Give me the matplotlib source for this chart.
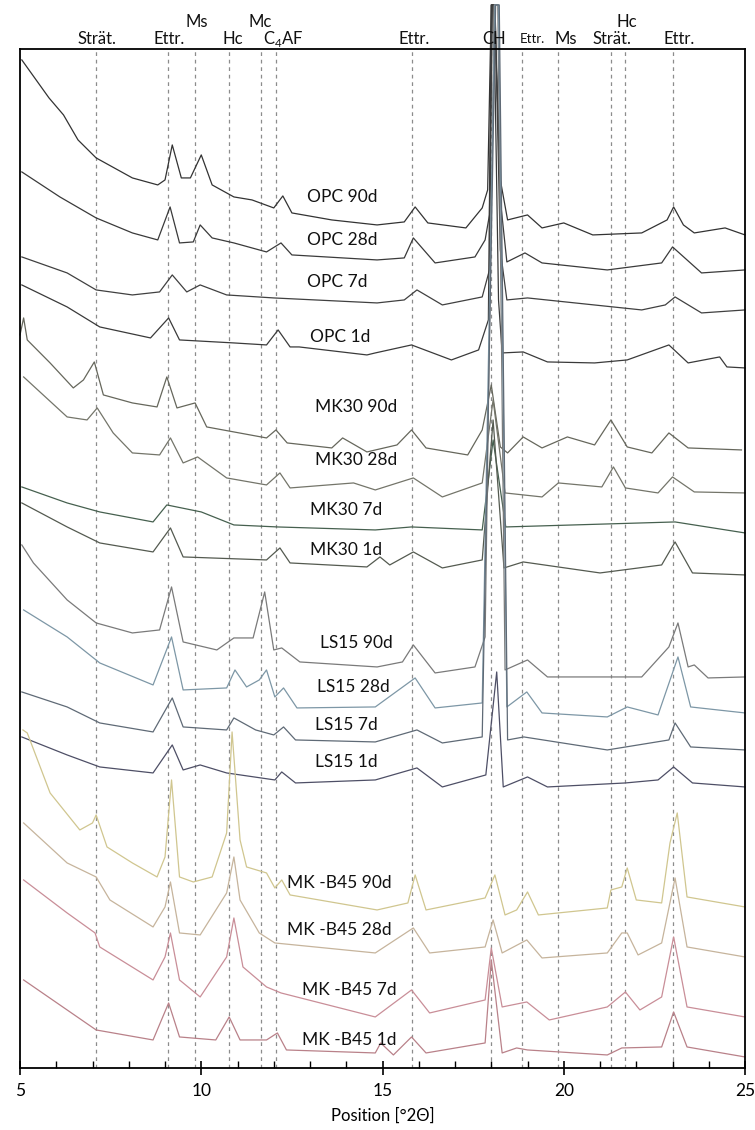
import numpy as np
import matplotlib
matplotlib.use("Agg")
import matplotlib.pyplot as plt

plt.rcParams['font.family'] = ['Lato', 'DejaVu Sans']

# phase reference lines (deg 2theta)
ref_lines = [7.09, 9.07, 9.83, 10.76, 11.65, 12.07, 15.8, 18.0, 18.84, 19.83, 21.3, 21.7, 23.0]

# phase labels above the frame: text, centre position, row (0 = lower, 1 = upper), small
phase_names = ['Strät.', 'Ettr.', 'Ms', 'Hc', 'Mc', r'C$_\mathregular{4}$AF',
               'Ettr.', 'CH', 'Ettr.', 'Ms', 'Strät.', 'Hc', 'Ettr.']
phase_pos = [7.12, 9.11, 9.88, 10.88, 11.62, 12.26, 15.87, 18.08, 19.12, 20.06, 21.33, 21.74, 23.18]
phase_row = [0, 0, 1, 0, 1, 0, 0, 0, 0, 0, 0, 1, 0]
phase_small = [0, 0, 0, 0, 0, 0, 0, 0, 1, 0, 0, 0, 0]

# stacked patterns (intensity, arbitrary units incl. offset)
opc90_x = [5.05, 5.8, 6.2, 6.6, 7.1, 7.6, 8.1, 8.8, 9.0, 9.2, 9.45, 9.7, 10.0, 10.3, 10.9, 11.4, 12.0, 12.25,
           12.5, 13.6, 14.85, 15.6, 15.9, 16.25, 17.3, 17.75, 17.9, 18.0, 18.08, 18.25, 18.45, 19.0, 19.4, 20.0,
           20.8, 22.15, 22.85, 23.03, 23.3, 23.6, 24.45, 25.0]
opc90_y = [1008, 970, 953, 928, 910, 900, 890, 883, 888, 923, 890, 890, 913, 883, 871, 868, 860, 872,
           855, 848, 843, 846, 861, 845, 840, 860, 878, 1063, 1063, 888, 848, 853, 840, 845,
           833, 835, 848, 861, 843, 835, 840, 833]

opc28_x = [5.05, 6.1, 7.1, 8.1, 8.8, 9.14, 9.4, 9.78, 9.97, 10.3, 10.9, 11.8, 12.2, 12.5, 14.85, 15.6, 15.85,
           16.45, 17.55, 17.83, 17.95, 18.03, 18.1, 18.25, 18.43, 18.93, 19.4, 21.2, 22.7, 23.0, 23.8, 25.0]
opc28_y = [896, 871, 850, 835, 828, 861, 825, 826, 843, 830, 825, 816, 825, 813, 808, 810, 830,
           805, 811, 828, 853, 1063, 1063, 868, 806, 815, 805, 798, 805, 821, 795, 798]

opc7_x = [5.05, 6.3, 7.1, 8.1, 8.85, 9.2, 9.6, 9.97, 10.7, 12.0, 14.85, 15.6, 15.95, 16.65, 17.75, 17.95,
          18.02, 18.1, 18.25, 18.43, 19.0, 22.15, 22.8, 23.07, 23.8, 25.0]
opc7_y = [811, 795, 778, 773, 776, 793, 776, 783, 773, 770, 765, 768, 778, 763, 771, 798,
          1063, 1063, 818, 768, 770, 758, 763, 771, 755, 758]

opc1_x = [5.05, 6.3, 7.2, 8.6, 9.1, 9.4, 10.9, 11.8, 12.12, 12.45, 12.7, 14.57, 14.8, 15.8, 16.9, 17.65,
          17.92, 18.0, 18.07, 18.2, 18.3, 18.88, 19.55, 20.85, 21.75, 22.9, 23.43, 24.3, 24.5, 25.0]
opc1_y = [783, 761, 741, 730, 750, 728, 725, 723, 738, 721, 721, 713, 715, 723, 708, 718,
          748, 1063, 1063, 768, 715, 716, 706, 705, 708, 723, 705, 711, 701, 700]

mk30_90_x = [5.0, 5.1, 5.2, 5.83, 6.47, 6.75, 7.05, 7.3, 8.1, 8.78, 9.05, 9.33, 9.83, 10.15, 10.9, 11.8,
             12.06, 12.37, 13.6, 13.9, 14.57, 15.4, 15.8, 16.2, 17.35, 17.75, 18.0, 18.25, 18.45, 18.88,
             19.4, 20.1, 20.85, 21.3, 21.75, 22.43, 22.9, 23.43, 24.9]
mk30_90_y = [733, 750, 728, 705, 680, 688, 706, 673, 665, 661, 691, 660, 665, 641, 636, 630,
             638, 625, 620, 630, 616, 623, 638, 620, 613, 638, 683, 621, 615, 631,
             620, 631, 623, 648, 621, 615, 635, 620, 618]

mk30_28_x = [5.1, 6.3, 6.85, 7.13, 7.57, 8.1, 8.85, 9.15, 9.5, 9.9, 10.7, 11.8, 12.17, 12.45, 14.2, 14.8,
             15.85, 16.65, 17.75, 18.05, 18.38, 19.4, 19.85, 21.05, 21.37, 21.7, 22.6, 23.0, 23.6, 25.0]
mk30_28_y = [691, 651, 648, 660, 635, 615, 613, 630, 605, 611, 590, 583, 595, 580, 585, 578,
             590, 571, 585, 668, 575, 571, 585, 581, 601, 580, 575, 591, 576, 575]

mk30_7_x = [5.05, 6.3, 7.2, 8.67, 9.05, 10.0, 10.9, 12.1, 14.8, 15.8, 17.75, 18.05, 18.4, 23.07, 25.0]
mk30_7_y = [581, 565, 556, 546, 563, 556, 543, 541, 538, 541, 538, 628, 541, 546, 535]

mk30_1_x = [5.05, 6.3, 7.2, 8.67, 9.15, 9.5, 11.8, 12.17, 12.45, 14.57, 14.93, 15.2, 15.85, 16.65, 17.75,
            18.05, 18.35, 18.88, 21.0, 22.7, 23.07, 23.55, 25.0]
mk30_1_y = [565, 541, 525, 516, 540, 511, 508, 520, 505, 501, 511, 503, 516, 500, 508,
            648, 500, 506, 495, 503, 526, 495, 493]

ls15_90_x = [5.05, 5.37, 6.3, 7.1, 8.1, 8.85, 9.18, 9.5, 10.43, 10.9, 11.43, 11.75, 12.0, 12.22, 12.72,
             14.85, 15.55, 15.85, 16.45, 17.55, 17.83, 18.08, 18.18, 18.38, 19.0, 19.55, 22.15, 22.9,
             23.15, 23.43, 23.6, 23.98, 25.0]
ls15_90_y = [523, 505, 468, 445, 435, 438, 481, 426, 418, 430, 430, 476, 418, 420, 406,
             401, 406, 423, 395, 401, 431, 1063, 1063, 398, 408, 391, 391, 421,
             445, 401, 403, 390, 391]

ls15_28_x = [5.1, 6.3, 7.2, 8.67, 9.18, 9.5, 10.7, 10.93, 11.25, 11.6, 11.8, 12.03, 12.27, 12.64, 14.8,
             15.9, 16.45, 17.75, 18.1, 18.2, 18.43, 18.98, 19.4, 21.2, 21.75, 22.6, 23.15, 23.5, 25.0]
ls15_28_y = [458, 431, 405, 383, 431, 378, 380, 398, 381, 388, 398, 371, 380, 360, 361,
             390, 360, 365, 1063, 1063, 361, 376, 355, 351, 361, 353, 411, 361, 355]

ls15_7_x = [5.05, 6.3, 7.2, 8.67, 9.2, 9.5, 10.7, 10.9, 11.5, 12.0, 12.27, 12.6, 14.8, 15.95, 16.65,
            17.75, 18.12, 18.22, 18.45, 18.9, 21.2, 22.9, 23.07, 23.5, 25.0]
ls15_7_y = [376, 361, 345, 336, 370, 341, 338, 350, 338, 333, 341, 328, 326, 338, 325,
            331, 1063, 1063, 328, 331, 318, 328, 345, 321, 318]

ls15_1_x = [5.05, 6.3, 7.2, 8.67, 9.2, 9.5, 9.97, 10.7, 12.03, 12.22, 12.6, 14.8, 15.95, 16.65, 17.85,
            18.15, 18.33, 19.0, 19.55, 21.7, 22.6, 23.03, 23.55, 25.0]
ls15_1_y = [331, 313, 301, 295, 323, 298, 303, 295, 288, 296, 285, 288, 300, 281, 293,
            396, 281, 291, 281, 285, 288, 301, 285, 281]

mkb90_x = [5.08, 5.2, 5.83, 6.65, 7.0, 7.1, 7.4, 8.1, 8.78, 9.0, 9.18, 9.4, 9.78, 10.3, 10.7, 10.85,
           11.07, 11.25, 11.8, 12.03, 12.22, 12.45, 14.85, 15.7, 15.9, 16.2, 17.83, 18.1, 18.38, 18.7,
           19.0, 19.3, 21.2, 21.3, 21.6, 21.75, 22.0, 22.7, 22.93, 23.13, 23.4, 25.0]
mkb90_y = [338, 335, 275, 238, 245, 253, 221, 205, 191, 211, 288, 191, 186, 191, 235, 336,
           228, 201, 195, 180, 188, 173, 158, 165, 193, 158, 170, 193, 153, 158,
           176, 153, 160, 178, 181, 200, 168, 165, 225, 255, 171, 161]

mkb28_x = [5.1, 6.3, 7.1, 7.48, 8.67, 9.0, 9.15, 9.4, 9.97, 10.7, 10.9, 11.07, 11.6, 12.03, 14.8, 15.85,
           16.3, 17.83, 18.05, 18.3, 18.98, 19.4, 21.2, 21.6, 21.75, 22.05, 22.7, 23.07, 23.4, 25.0]
mkb28_y = [245, 205, 191, 168, 141, 161, 186, 135, 133, 175, 211, 168, 135, 125, 115, 140,
           115, 121, 148, 115, 128, 110, 115, 135, 135, 113, 125, 190, 121, 111]

mkb7_x = [5.1, 6.3, 7.07, 7.2, 8.67, 9.0, 9.15, 9.4, 9.97, 10.7, 10.9, 11.15, 11.8, 12.2, 14.8, 15.8,
          16.3, 17.83, 18.0, 18.3, 18.98, 19.6, 21.2, 21.7, 22.1, 22.7, 23.03, 23.4, 25.0]
mkb7_y = [188, 155, 135, 121, 88, 111, 135, 88, 71, 111, 150, 101, 81, 75, 51, 78,
          55, 68, 120, 61, 66, 48, 61, 76, 58, 71, 131, 61, 51]

mkb1_x = [5.1, 6.3, 7.1, 8.67, 9.1, 9.4, 10.4, 10.77, 11.07, 11.8, 12.1, 12.35, 14.8, 14.95, 15.3, 15.8,
          16.2, 17.83, 18.0, 18.3, 18.7, 19.0, 21.2, 21.6, 22.7, 23.03, 23.4, 25.0]
mkb1_y = [88, 58, 38, 28, 65, 31, 28, 51, 28, 28, 35, 18, 15, 25, 13, 31,
          15, 25, 108, 15, 20, 18, 13, 20, 21, 56, 21, 11]

sample_names = ['OPC 90d', 'OPC 28d', 'OPC 7d', 'OPC 1d',
                'MK30 90d', 'MK30 28d', 'MK30 7d', 'MK30 1d',
                'LS15 90d', 'LS15 28d', 'LS15 7d', 'LS15 1d',
                'MK -B45 90d', 'MK -B45 28d', 'MK -B45 7d', 'MK -B45 1d']
patterns = [(opc90_x, opc90_y), (opc28_x, opc28_y), (opc7_x, opc7_y), (opc1_x, opc1_y),
            (mk30_90_x, mk30_90_y), (mk30_28_x, mk30_28_y), (mk30_7_x, mk30_7_y), (mk30_1_x, mk30_1_y),
            (ls15_90_x, ls15_90_y), (ls15_28_x, ls15_28_y), (ls15_7_x, ls15_7_y), (ls15_1_x, ls15_1_y),
            (mkb90_x, mkb90_y), (mkb28_x, mkb28_y), (mkb7_x, mkb7_y), (mkb1_x, mkb1_y)]
# where each sample name sits (x, intensity)
label_x = [12.92, 12.92, 12.92, 13.0, 13.14, 13.14, 13.0, 13.0,
           13.28, 13.2, 13.14, 13.14, 12.37, 12.37, 12.78, 12.78]
label_y = [871, 828, 786, 731, 661, 608, 558, 518, 425, 381, 343, 306, 185, 138, 78, 28]

colors = ['#333333', '#3a3a3a', '#404040', '#3a3a3a',
          '#66675c', '#74756a', '#46604f', '#545a50',
          '#7a7a7a', '#7d97a6', '#5f6a76', '#4e4f66',
          '#d0c68f', '#c6b49c', '#c98e98', '#b98189']

fig = plt.figure(figsize=(7.55, 11.3), dpi=100)
ax = fig.add_axes([0.0265, 0.0549, 0.9603, 0.9018])

for xv in ref_lines:
    ax.axvline(xv, color='#8c8c8c', lw=0.9, ls=(0, (3, 3)), zorder=1)

for (xs, ys), c in zip(patterns, colors):
    ax.plot(xs, ys, color=c, lw=0.9, zorder=2, clip_on=False)

for name, lx, ly in zip(sample_names, label_x, label_y):
    ax.text(lx, ly, name, fontsize=12.5, va='center', ha='left', color='#111111', zorder=3)

trans = ax.get_xaxis_transform()
for name, px, row, small in zip(phase_names, phase_pos, phase_row, phase_small):
    yy = 1.0265 if row else 1.0095
    ax.text(px, yy, name, transform=trans, ha='center', va='center',
            fontsize=9.5 if small else 12, color='#111111')

ax.set_xlim(5, 25)
ax.set_ylim(0, 1019)
ax.set_yticks([])
ax.set_xticks([5, 10, 15, 20, 25])
ax.set_xticks(np.arange(5, 26, 1), minor=True)
ax.tick_params(axis='x', which='major', direction='inout', length=10, width=1.2, labelsize=12.5, pad=6)
ax.tick_params(axis='x', which='minor', direction='in', length=5, width=1)
for s in ax.spines.values():
    s.set_linewidth(1.3)
ax.set_xlabel('Position [°2Θ]', fontsize=12, labelpad=6)

fig.savefig('out.png', dpi=100)
